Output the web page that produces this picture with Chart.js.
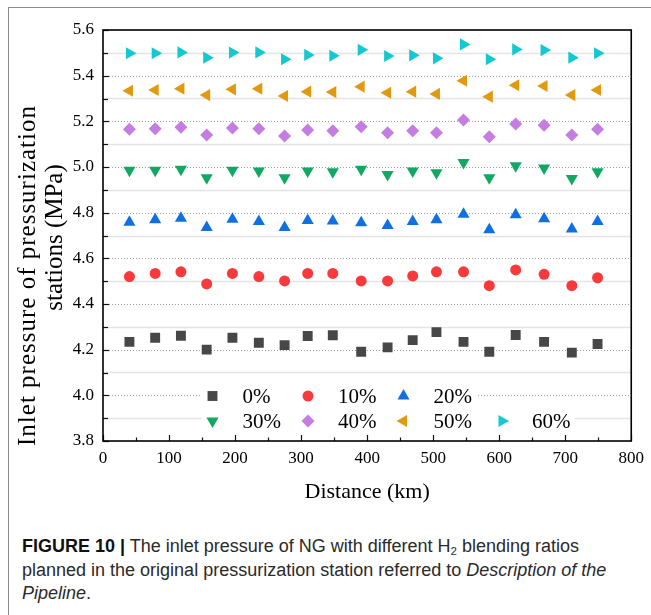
<!DOCTYPE html>
<html>
<head>
<meta charset="utf-8">
<title>Inlet pressure of NG</title>
<script src="https://cdn.jsdelivr.net/npm/chart.js@4"></script>
<style>
    * { margin: 0; padding: 0; box-sizing: border-box; }

    html, body {
        width: 651px;
        height: 615px;
        background: #fff;
        overflow: hidden;
    }

    .frame {
        position: absolute;
        left: 8px;
        top: 7px;
        width: 700px;
        height: 700px;
        border-top: 1px solid #8c8c8c;
        border-left: 1px solid #8c8c8c;
    }

    #chart {
        position: absolute;
        left: 0;
        top: 0;
    }

    .caption {
        position: absolute;
        left: 22px;
        top: 535px;
        font-family: 'Liberation Sans', Arial, sans-serif;
        font-size: 18px;
        line-height: 23.5px;
        color: #2a2a2a;
        white-space: nowrap;
    }

    .caption b { color: #111; }

    .caption sub {
        font-size: 11.5px;
        vertical-align: -3px;
        line-height: 0;
    }
</style>
</head>
<body>
<div class="frame"></div>
<canvas id="chart" width="651" height="520"></canvas>
<div class="caption"><b>FIGURE 10 |</b> The inlet pressure of NG with different H<sub>2</sub> blending ratios<br>planned in the original pressurization station referred to <i>Description of the</i><br><i>Pipeline</i>.</div>

<script>
    // Distance of each pressurization station (km)
    const distance = [40, 79, 118, 157, 196, 236, 275, 310, 348, 391, 431, 469, 505, 546, 585, 625, 668, 710, 749];

    // H2 blending ratios
    const ratios = ['0%', '10%', '20%', '30%', '40%', '50%', '60%'];

    // Inlet pressure (MPa) per ratio
    const p0  = [4.234, 4.252, 4.261, 4.200, 4.252, 4.230, 4.220, 4.260, 4.263, 4.191, 4.210, 4.242, 4.277, 4.234, 4.191, 4.264, 4.234, 4.187, 4.225];
    const p10 = [4.520, 4.534, 4.541, 4.488, 4.534, 4.520, 4.501, 4.534, 4.534, 4.501, 4.501, 4.523, 4.541, 4.541, 4.480, 4.549, 4.530, 4.480, 4.515];
    const p20 = [4.758, 4.769, 4.776, 4.735, 4.771, 4.761, 4.735, 4.766, 4.764, 4.756, 4.744, 4.761, 4.769, 4.793, 4.725, 4.791, 4.773, 4.729, 4.761];
    const p30 = [4.986, 4.986, 4.990, 4.953, 4.986, 4.982, 4.953, 4.982, 4.979, 4.990, 4.967, 4.982, 4.975, 5.020, 4.953, 5.005, 4.996, 4.950, 4.979];
    const p40 = [5.165, 5.168, 5.174, 5.140, 5.171, 5.168, 5.136, 5.162, 5.159, 5.176, 5.150, 5.159, 5.150, 5.206, 5.133, 5.188, 5.183, 5.140, 5.165];
    const p50 = [5.334, 5.337, 5.343, 5.315, 5.340, 5.343, 5.311, 5.330, 5.328, 5.352, 5.325, 5.330, 5.320, 5.378, 5.308, 5.358, 5.355, 5.315, 5.337];
    const p60 = [5.498, 5.498, 5.502, 5.479, 5.501, 5.502, 5.472, 5.491, 5.487, 5.513, 5.486, 5.489, 5.476, 5.537, 5.472, 5.515, 5.512, 5.479, 5.498];

    // Tick labels
    const xTicks = [0, 100, 200, 300, 400, 500, 600, 700, 800];
    const yTicks = [3.8, 4.0, 4.2, 4.4, 4.6, 4.8, 5.0, 5.2, 5.4, 5.6];

    // Axis titles
    const xTitle = 'Distance (km)';
    const yTitle = ['Inlet pressure of pressurization', 'stations (MPa)'];

    const series = [p0, p10, p20, p30, p40, p50, p60];

    // marker look for each series (Origin style symbols)
    const markers = [
        { color: '#474747', style: 'rect',     radius: 7,   rotation: 0 },
        { color: '#f93a3c', style: 'circle',   radius: 5.5, rotation: 0 },
        { color: '#1170e0', style: 'triangle', radius: 7,   rotation: 0 },
        { color: '#10a862', style: 'triangle', radius: 7,   rotation: 180 },
        { color: '#c57de2', style: 'rectRot',  radius: 6.5, rotation: 0 },
        { color: '#e19a0e', style: 'triangle', radius: 7,   rotation: 270 },
        { color: '#14c8cf', style: 'triangle', radius: 7,   rotation: 90 }
    ];

    const serif = "'Liberation Serif', 'Times New Roman', serif";
    Chart.defaults.font.family = serif;
    Chart.defaults.color = '#000';

    const datasets = series.map((vals, i) => ({
        label: ratios[i],
        data: vals.map((v, j) => ({ x: distance[j], y: v })),
        showLine: false,
        pointStyle: markers[i].style,
        pointRadius: markers[i].radius,
        pointRotation: markers[i].rotation,
        pointBackgroundColor: markers[i].color,
        pointBorderWidth: 0,
        backgroundColor: markers[i].color,
        borderColor: markers[i].color
    }));

    function hline(ctx, x1, x2, y) {
        ctx.beginPath();
        ctx.moveTo(x1, y);
        ctx.lineTo(x2, y);
        ctx.stroke();
    }

    function vline(ctx, x, y1, y2) {
        ctx.beginPath();
        ctx.moveTo(x, y1);
        ctx.lineTo(x, y2);
        ctx.stroke();
    }

    // dotted major / solid minor horizontal grid, frame and inward ticks
    const originFrame = {
        id: 'originFrame',
        beforeDatasetsDraw(chart) {
            const { ctx, chartArea: a, scales: { y } } = chart;
            const t = y.ticks;
            ctx.save();
            for (let i = 0; i < t.length - 1; i++) {
                const py = y.getPixelForValue(t[i].value);
                const ny = y.getPixelForValue(t[i + 1].value);
                const my = Math.round((py + ny) / 2) + 0.5;
                ctx.setLineDash([]);
                ctx.strokeStyle = '#e4e4e4';
                ctx.lineWidth = 1.5;
                hline(ctx, a.left, a.right, my);
                if (i > 0) {
                    ctx.setLineDash([1, 2]);
                    ctx.strokeStyle = '#9c9c9c';
                    ctx.lineWidth = 1;
                    hline(ctx, a.left, a.right, Math.round(py) + 0.5);
                }
            }
            ctx.restore();
        },
        afterDraw(chart) {
            const { ctx, chartArea: a, scales: { x, y } } = chart;
            ctx.save();
            ctx.strokeStyle = '#111';
            ctx.lineWidth = 1.2;
            // x ticks, pointing in
            x.ticks.forEach((tk, i) => {
                const px = Math.round(x.getPixelForValue(tk.value)) + 0.5;
                vline(ctx, px, a.bottom, a.bottom - 6);
                if (i < x.ticks.length - 1) {
                    const mx = Math.round((px + x.getPixelForValue(x.ticks[i + 1].value)) / 2) + 0.5;
                    vline(ctx, mx, a.bottom, a.bottom - 3.5);
                }
            });
            // y ticks, pointing in
            y.ticks.forEach((tk, i) => {
                const py = Math.round(y.getPixelForValue(tk.value)) + 0.5;
                hline(ctx, a.left, a.left + 6, py);
                if (i < y.ticks.length - 1) {
                    const my = Math.round((py + y.getPixelForValue(y.ticks[i + 1].value)) / 2) + 0.5;
                    hline(ctx, a.left, a.left + 5, my);
                }
            });
            ctx.lineWidth = 1.6;
            ctx.strokeStyle = '#000';
            ctx.strokeRect(a.left, a.top, a.right - a.left, a.bottom - a.top);

            // y axis title, two lines as placed in the figure
            ctx.fillStyle = '#000';
            ctx.font = '25px ' + serif;
            ctx.textAlign = 'center';
            ctx.textBaseline = 'middle';
            const mid = (a.top + a.bottom) / 2;
            [[28, mid + 40, '1px'], [55, mid + 2, '0px']].forEach(([tx, ty, sp], i) => {
                ctx.save();
                ctx.letterSpacing = sp;
                ctx.translate(tx, ty);
                ctx.rotate(-Math.PI / 2);
                ctx.fillText(yTitle[i], 0, 0);
                ctx.restore();
            });
            ctx.restore();
        }
    };

    // legend inside the plot, two rows like the Origin figure
    const insideLegend = {
        id: 'insideLegend',
        afterDatasetsDraw(chart) {
            const { ctx, chartArea: a } = chart;
            const cols = [109.5, 205, 300.5, 399];
            const rows = [[0, 1, 2], [3, 4, 5, 6]];
            const rowY = [a.bottom - 45, a.bottom - 20];
            ctx.save();
            ctx.font = '21px ' + serif;
            ctx.textBaseline = 'middle';
            rows.forEach((items, r) => {
                const y = rowY[r];
                const last = items.length - 1;
                const x0 = a.left + cols[0] - 11;
                const x1 = a.left + cols[last] + 30 + ctx.measureText(ratios[items[last]]).width + 4;
                ctx.fillStyle = '#fff';
                ctx.fillRect(x0, y - 11, x1 - x0, 22);
                items.forEach((di, c) => {
                    const ds = chart.data.datasets[di];
                    const px = a.left + cols[c];
                    ctx.fillStyle = ds.pointBackgroundColor;
                    Chart.helpers.drawPoint(ctx, {
                        pointStyle: ds.pointStyle,
                        rotation: ds.pointRotation,
                        radius: ds.pointRadius,
                        borderWidth: 0
                    }, px, y);
                    ctx.fillStyle = '#000';
                    ctx.fillText(ds.label, px + 30, y + 1);
                });
            });
            ctx.restore();
        }
    };

    new Chart(document.getElementById('chart'), {
        type: 'scatter',
        data: { datasets },
        options: {
            responsive: false,
            animation: false,
            layout: { padding: { top: 30, right: 15.5, left: 0, bottom: 0 } },
            plugins: {
                legend: { display: false },
                tooltip: { enabled: false }
            },
            scales: {
                x: {
                    type: 'linear',
                    min: 0,
                    max: 800,
                    afterBuildTicks: (s) => { s.ticks = xTicks.map(v => ({ value: v })); },
                    afterFit: (s) => { s.height = 79; },
                    grid: { display: false, drawTicks: false },
                    border: { display: false },
                    ticks: { font: { size: 17 }, padding: 7, maxRotation: 0 },
                    title: {
                        display: true,
                        text: xTitle,
                        font: { size: 22 },
                        padding: { top: 0, bottom: 15 }
                    }
                },
                y: {
                    min: 3.8,
                    max: 5.6,
                    afterBuildTicks: (s) => { s.ticks = yTicks.map(v => ({ value: v })); },
                    afterFit: (s) => { s.width = 103; },
                    grid: { display: false, drawTicks: false },
                    border: { display: false },
                    ticks: {
                        font: { size: 17 },
                        padding: 9,
                        callback: (v) => Number(v).toFixed(1)
                    }
                }
            }
        },
        plugins: [originFrame, insideLegend]
    });
</script>
</body>
</html>
